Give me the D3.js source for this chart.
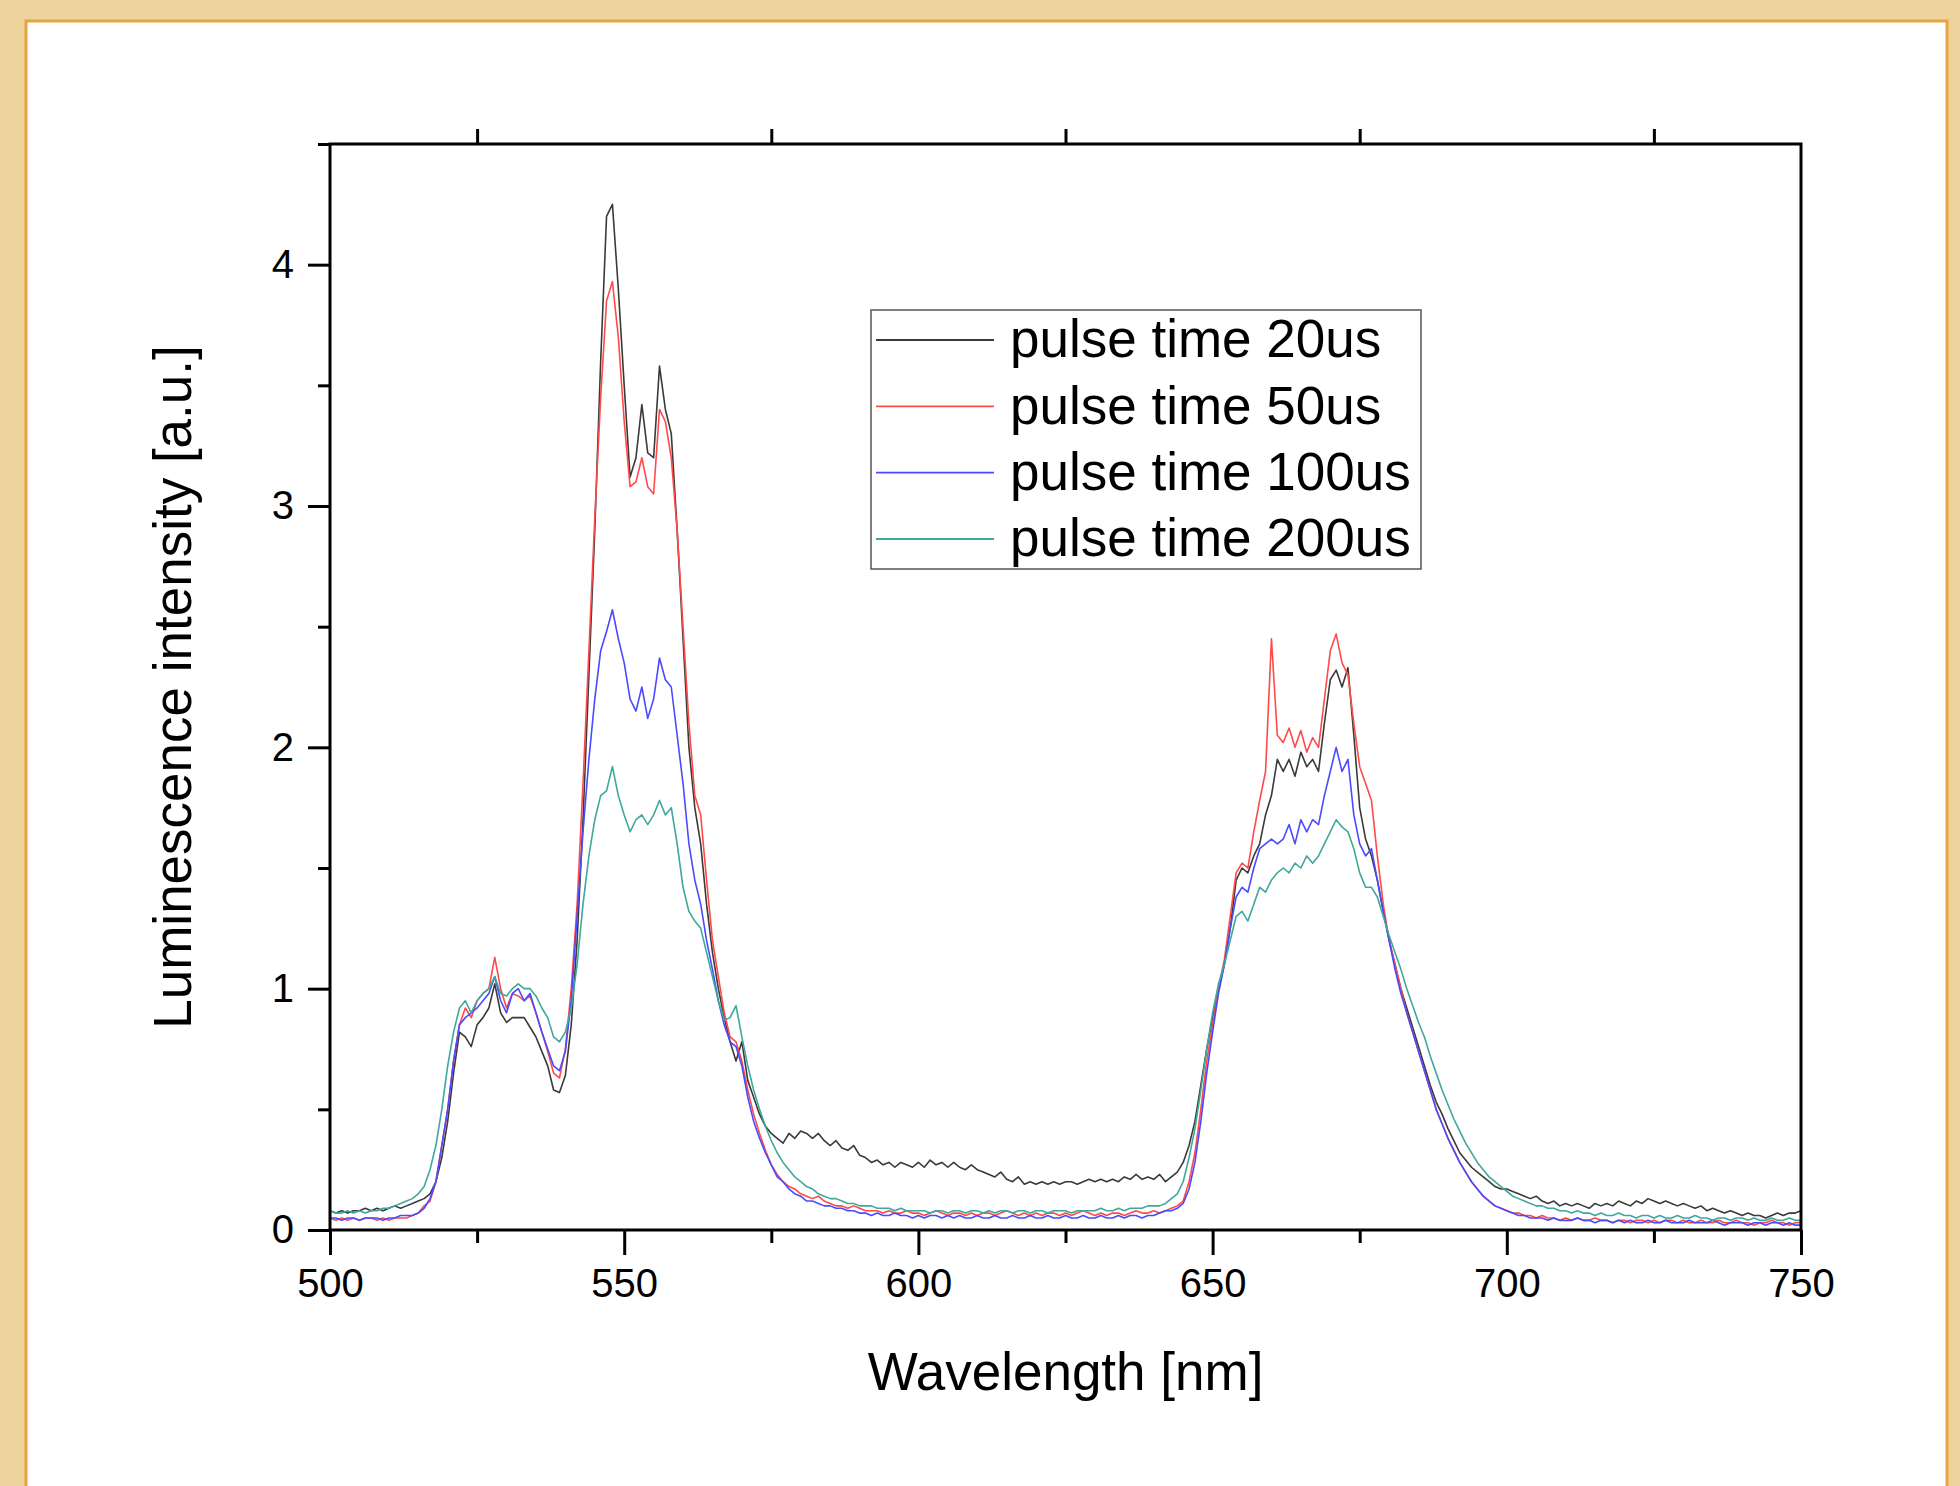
<!DOCTYPE html>
<html>
<head>
<meta charset="utf-8">
<script src="https://cdn.jsdelivr.net/npm/d3@7"></script>
<style>
  html, body { margin: 0; padding: 0; background: #ecd39c; }
  svg { display: block; }
  text { font-family: "Liberation Sans", Arial, sans-serif; fill: #000; }
</style>
</head>
<body>
<svg id="chart" width="1960" height="1486"></svg>
<script>
// wavelength grid, 1 nm steps
var wlStart = 500, wlEnd = 750;

// pulse time 20us
var pulse20 = [
  0.08,0.07,0.08,0.07,0.08,0.08,0.09,0.08,0.09,0.08,
  0.09,0.10,0.09,0.10,0.11,0.12,0.13,0.15,0.20,0.30,
  0.45,0.65,0.82,0.80,0.76,0.85,0.88,0.92,1.02,0.90,
  0.86,0.88,0.88,0.88,0.84,0.80,0.74,0.68,0.58,0.57,
  0.64,0.85,1.20,1.70,2.30,2.90,3.60,4.20,4.25,3.90,
  3.50,3.12,3.20,3.42,3.22,3.20,3.58,3.40,3.30,2.90,
  2.45,2.00,1.75,1.60,1.35,1.15,1.00,0.88,0.78,0.70,
  0.78,0.62,0.55,0.48,0.43,0.40,0.38,0.36,0.40,0.38,
  0.41,0.40,0.38,0.40,0.37,0.35,0.37,0.34,0.33,0.35,
  0.31,0.30,0.28,0.29,0.27,0.28,0.26,0.28,0.27,0.26,
  0.28,0.26,0.29,0.27,0.28,0.26,0.28,0.26,0.25,0.27,
  0.25,0.24,0.23,0.22,0.24,0.21,0.20,0.22,0.19,0.20,
  0.19,0.20,0.19,0.20,0.19,0.20,0.20,0.19,0.20,0.21,
  0.20,0.21,0.20,0.21,0.20,0.22,0.21,0.23,0.21,0.22,
  0.21,0.23,0.20,0.22,0.24,0.28,0.35,0.45,0.60,0.75,
  0.88,1.00,1.10,1.25,1.45,1.50,1.48,1.55,1.60,1.72,
  1.80,1.95,1.90,1.95,1.88,1.98,1.92,1.95,1.90,2.10,
  2.28,2.32,2.25,2.33,2.05,1.75,1.62,1.55,1.45,1.32,
  1.20,1.10,1.00,0.92,0.84,0.76,0.68,0.60,0.53,0.48,
  0.42,0.37,0.32,0.29,0.26,0.24,0.22,0.20,0.18,0.17,
  0.17,0.16,0.15,0.14,0.13,0.14,0.12,0.11,0.12,0.10,
  0.11,0.10,0.11,0.10,0.09,0.11,0.10,0.11,0.10,0.12,
  0.11,0.10,0.12,0.11,0.13,0.12,0.11,0.12,0.11,0.10,
  0.11,0.10,0.09,0.10,0.08,0.09,0.08,0.07,0.08,0.07,
  0.06,0.07,0.06,0.06,0.05,0.06,0.07,0.06,0.07,0.07,
  0.08
];

// pulse time 50us
var pulse50 = [
  0.05,0.04,0.05,0.04,0.05,0.04,0.05,0.05,0.04,0.05,
  0.04,0.05,0.05,0.05,0.06,0.07,0.10,0.12,0.20,0.35,
  0.50,0.70,0.85,0.92,0.88,0.95,0.98,1.00,1.13,1.00,
  0.92,0.98,0.97,0.95,0.97,0.90,0.82,0.74,0.65,0.63,
  0.75,1.00,1.35,1.85,2.40,2.95,3.45,3.85,3.93,3.70,
  3.35,3.08,3.10,3.20,3.08,3.05,3.40,3.35,3.20,2.90,
  2.50,2.10,1.80,1.72,1.45,1.20,1.05,0.90,0.80,0.78,
  0.70,0.58,0.48,0.40,0.33,0.27,0.23,0.20,0.18,0.17,
  0.15,0.14,0.13,0.14,0.12,0.11,0.10,0.10,0.09,0.10,
  0.09,0.08,0.08,0.08,0.07,0.08,0.07,0.07,0.08,0.07,
  0.07,0.06,0.07,0.08,0.07,0.06,0.07,0.07,0.06,0.07,
  0.06,0.07,0.07,0.06,0.07,0.08,0.07,0.06,0.07,0.06,
  0.07,0.06,0.07,0.07,0.06,0.07,0.06,0.07,0.08,0.07,
  0.06,0.07,0.06,0.07,0.07,0.06,0.07,0.08,0.07,0.07,
  0.08,0.07,0.08,0.09,0.10,0.12,0.20,0.32,0.50,0.70,
  0.85,1.00,1.12,1.30,1.48,1.52,1.50,1.65,1.78,1.90,
  2.45,2.05,2.02,2.08,2.00,2.07,1.98,2.04,2.00,2.20,
  2.40,2.47,2.35,2.30,2.10,1.92,1.85,1.78,1.55,1.35,
  1.20,1.10,1.00,0.90,0.82,0.74,0.66,0.58,0.50,0.44,
  0.38,0.33,0.28,0.24,0.20,0.17,0.14,0.12,0.10,0.09,
  0.08,0.07,0.07,0.06,0.06,0.05,0.06,0.05,0.05,0.04,
  0.05,0.04,0.05,0.04,0.04,0.05,0.04,0.04,0.03,0.04,
  0.04,0.03,0.04,0.04,0.03,0.04,0.03,0.04,0.04,0.03,
  0.04,0.03,0.03,0.04,0.03,0.03,0.04,0.03,0.03,0.04,
  0.03,0.03,0.02,0.03,0.03,0.04,0.03,0.03,0.02,0.03,
  0.03
];

// pulse time 100us
var pulse100 = [
  0.05,0.05,0.04,0.05,0.05,0.04,0.05,0.05,0.05,0.04,
  0.05,0.05,0.06,0.06,0.06,0.07,0.09,0.13,0.20,0.35,
  0.50,0.70,0.85,0.88,0.90,0.92,0.95,0.98,1.05,0.95,
  0.90,0.98,1.00,0.95,0.98,0.90,0.82,0.75,0.68,0.66,
  0.74,0.95,1.30,1.65,1.95,2.20,2.40,2.48,2.57,2.45,
  2.35,2.20,2.15,2.25,2.12,2.20,2.37,2.28,2.25,2.05,
  1.85,1.60,1.45,1.35,1.20,1.08,0.95,0.85,0.78,0.76,
  0.68,0.55,0.45,0.38,0.32,0.27,0.22,0.20,0.17,0.15,
  0.14,0.12,0.12,0.11,0.10,0.10,0.09,0.09,0.08,0.08,
  0.07,0.07,0.06,0.07,0.06,0.06,0.07,0.06,0.06,0.05,
  0.06,0.05,0.06,0.06,0.05,0.06,0.05,0.06,0.05,0.05,
  0.06,0.05,0.05,0.06,0.05,0.05,0.06,0.05,0.05,0.06,
  0.05,0.05,0.06,0.05,0.05,0.06,0.05,0.05,0.06,0.05,
  0.05,0.06,0.05,0.05,0.06,0.05,0.06,0.06,0.05,0.06,
  0.06,0.07,0.08,0.08,0.09,0.11,0.17,0.28,0.45,0.65,
  0.82,0.98,1.10,1.25,1.38,1.42,1.40,1.50,1.58,1.60,
  1.62,1.60,1.62,1.68,1.60,1.70,1.65,1.70,1.68,1.80,
  1.90,2.00,1.90,1.95,1.72,1.60,1.55,1.58,1.45,1.32,
  1.20,1.08,0.98,0.90,0.82,0.74,0.66,0.58,0.50,0.44,
  0.38,0.33,0.28,0.24,0.20,0.17,0.14,0.12,0.10,0.09,
  0.08,0.07,0.06,0.06,0.05,0.05,0.05,0.04,0.05,0.04,
  0.04,0.04,0.05,0.04,0.04,0.03,0.04,0.04,0.03,0.04,
  0.03,0.04,0.03,0.03,0.04,0.03,0.03,0.04,0.03,0.03,
  0.03,0.04,0.03,0.03,0.03,0.04,0.03,0.02,0.03,0.03,
  0.03,0.02,0.03,0.03,0.02,0.03,0.03,0.02,0.03,0.02,
  0.02
];

// pulse time 200us
var pulse200 = [
  0.08,0.07,0.07,0.08,0.07,0.08,0.07,0.08,0.08,0.09,
  0.09,0.10,0.11,0.12,0.13,0.15,0.18,0.25,0.35,0.50,
  0.68,0.82,0.92,0.95,0.90,0.95,0.98,1.00,1.05,0.98,
  0.97,1.00,1.02,1.00,1.00,0.97,0.92,0.88,0.80,0.78,
  0.82,0.92,1.10,1.35,1.55,1.70,1.80,1.82,1.92,1.80,
  1.72,1.65,1.70,1.72,1.68,1.72,1.78,1.72,1.75,1.60,
  1.42,1.32,1.28,1.25,1.15,1.05,0.95,0.87,0.88,0.93,
  0.80,0.68,0.58,0.50,0.43,0.37,0.32,0.28,0.25,0.22,
  0.20,0.18,0.17,0.15,0.14,0.13,0.13,0.12,0.11,0.11,
  0.10,0.10,0.10,0.09,0.09,0.09,0.08,0.09,0.08,0.08,
  0.08,0.08,0.07,0.08,0.08,0.07,0.08,0.08,0.07,0.08,
  0.08,0.07,0.08,0.07,0.08,0.08,0.07,0.08,0.08,0.07,
  0.08,0.08,0.07,0.08,0.08,0.08,0.07,0.08,0.08,0.08,
  0.08,0.09,0.08,0.08,0.09,0.08,0.09,0.09,0.09,0.10,
  0.10,0.10,0.11,0.13,0.15,0.20,0.30,0.42,0.58,0.75,
  0.90,1.02,1.10,1.20,1.30,1.32,1.28,1.35,1.42,1.40,
  1.45,1.48,1.50,1.48,1.52,1.50,1.55,1.52,1.55,1.60,
  1.65,1.70,1.67,1.65,1.58,1.48,1.42,1.42,1.38,1.30,
  1.22,1.15,1.08,1.00,0.93,0.86,0.80,0.72,0.65,0.58,
  0.52,0.46,0.41,0.36,0.32,0.28,0.25,0.22,0.20,0.18,
  0.16,0.14,0.13,0.12,0.11,0.10,0.10,0.09,0.09,0.08,
  0.08,0.07,0.08,0.07,0.07,0.06,0.07,0.06,0.06,0.07,
  0.06,0.06,0.05,0.06,0.06,0.05,0.06,0.05,0.05,0.06,
  0.05,0.05,0.06,0.05,0.05,0.04,0.05,0.05,0.04,0.05,
  0.05,0.04,0.05,0.04,0.04,0.05,0.04,0.04,0.05,0.04,
  0.04
];

var seriesNames = ["pulse time 20us", "pulse time 50us", "pulse time 100us", "pulse time 200us"];
var seriesColors = ["#3a3a3a", "#ff4a4a", "#4a4aff", "#3fa89c"];
var seriesValues = [pulse20, pulse50, pulse100, pulse200];

var xMajor = [500, 550, 600, 650, 700, 750];
var xMinor = [525, 575, 625, 675, 725];
var yMajor = [0, 1, 2, 3, 4];
var yMinor = [0.5, 1.5, 2.5, 3.5, 4.5];

var svg = d3.select("#chart");

// white sheet on the tan background
svg.append("rect")
    .attr("x", 26).attr("y", 21)
    .attr("width", 1921).attr("height", 1480)
    .attr("fill", "#fff")
    .attr("stroke", "#e6a445")
    .attr("stroke-width", 3);

// plot box (window.top is reserved, so use prefixed names)
var pLeft = 330, pRight = 1801, pTop = 144, pBottom = 1230;

var x = d3.scaleLinear().domain([wlStart, wlEnd]).range([pLeft, pRight]);
var y = d3.scaleLinear().domain([0, 4.5]).range([pBottom, pTop]);

var line = d3.line()
    .x(function (d) { return x(d[0]); })
    .y(function (d) { return y(d[1]); });

var plot = svg.append("g");
seriesValues.forEach(function (vals, i) {
    var pts = vals.map(function (v, k) { return [wlStart + k, v]; });
    plot.append("path")
        .datum(pts)
        .attr("fill", "none")
        .attr("stroke", seriesColors[i])
        .attr("stroke-width", 1.6)
        .attr("stroke-linejoin", "round")
        .attr("d", line);
});

function styleAxis(g) {
    g.select(".domain").remove();
    g.selectAll(".tick line").attr("stroke", "#000").attr("stroke-width", 3);
    g.selectAll(".tick text").attr("fill", "#000").style("font-size", "40px");
}

// bottom axis
svg.append("g")
    .attr("transform", "translate(0," + pBottom + ")")
    .call(d3.axisBottom(x).tickValues(xMajor).tickSize(25).tickPadding(14).tickFormat(d3.format("d")))
    .call(styleAxis);
svg.append("g")
    .attr("transform", "translate(0," + pBottom + ")")
    .call(d3.axisBottom(x).tickValues(xMinor).tickSize(13).tickFormat(""))
    .call(styleAxis);

// top axis, ticks only at the in-between positions
svg.append("g")
    .attr("transform", "translate(0," + pTop + ")")
    .call(d3.axisTop(x).tickValues(xMinor).tickSize(15).tickFormat(""))
    .call(styleAxis);

// left axis
svg.append("g")
    .attr("transform", "translate(" + pLeft + ",0)")
    .call(d3.axisLeft(y).tickValues(yMajor).tickSize(22).tickPadding(14).tickFormat(d3.format("d")))
    .call(styleAxis);
svg.append("g")
    .attr("transform", "translate(" + pLeft + ",0)")
    .call(d3.axisLeft(y).tickValues(yMinor).tickSize(12).tickFormat(""))
    .call(styleAxis);

// frame
svg.append("rect")
    .attr("x", pLeft).attr("y", pTop)
    .attr("width", pRight - pLeft).attr("height", pBottom - pTop)
    .attr("fill", "none")
    .attr("stroke", "#000")
    .attr("stroke-width", 3);

// axis titles
svg.append("text")
    .attr("x", (pLeft + pRight) / 2).attr("y", 1390)
    .attr("text-anchor", "middle")
    .style("font-size", "53px")
    .text("Wavelength [nm]");

svg.append("text")
    .attr("transform", "translate(191," + ((pTop + pBottom) / 2) + ")rotate(-90)")
    .attr("text-anchor", "middle")
    .style("font-size", "53px")
    .text("Luminescence intensity [a.u.]");

// legend
var lg = svg.append("g");
lg.append("rect")
    .attr("x", 871).attr("y", 310)
    .attr("width", 550).attr("height", 259)
    .attr("fill", "#fff")
    .attr("stroke", "#555")
    .attr("stroke-width", 1.5);

var rowY = d3.scaleLinear().domain([0, 3]).range([340, 539]);
seriesNames.forEach(function (name, i) {
    lg.append("line")
        .attr("x1", 876).attr("x2", 994)
        .attr("y1", rowY(i)).attr("y2", rowY(i))
        .attr("stroke", seriesColors[i])
        .attr("stroke-width", 1.8);
    lg.append("text")
        .attr("x", 1010).attr("y", rowY(i))
        .attr("dy", "0.33em")
        .style("font-size", "53px")
        .text(name);
});
</script>
</body>
</html>
